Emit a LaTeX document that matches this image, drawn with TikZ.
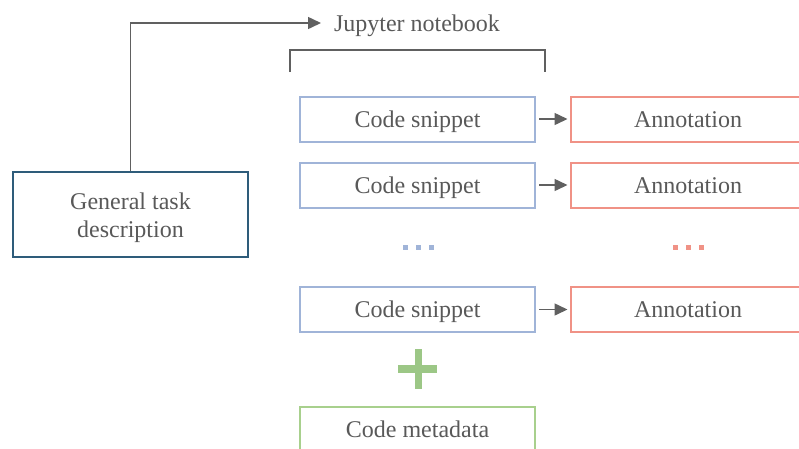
\documentclass[tikz,border=0pt]{standalone}
\usepackage{fontspec}
\setmainfont{Liberation Serif}
\usepackage{tikz}
\usetikzlibrary{arrows.meta,positioning}
\definecolor{txtgray}{RGB}{89,89,89}
\definecolor{linegray}{RGB}{96,96,96}
\definecolor{snipblue}{RGB}{160,180,216}
\definecolor{annred}{RGB}{240,146,134}
\definecolor{taskblue}{RGB}{46,92,122}
\definecolor{metagreen}{RGB}{168,208,141}
\definecolor{plusgreen}{RGB}{156,199,134}

\tikzset{
  label text/.style={text=txtgray, font=\fontsize{24}{28}\selectfont,
    text height=21pt, text depth=5pt},
  box/.style={draw, line width=2pt, fill=white, inner sep=0pt,
    minimum width=235pt, minimum height=45pt, label text, align=center},
  snippet/.style={box, draw=snipblue},
  annot/.style={box, draw=annred},
  conn/.style={draw=linegray, line width=1.5pt, -{Triangle[length=13pt,width=12pt]}}
}

\begin{document}
\begin{tikzpicture}[x=1pt, y=-1pt]
\useasboundingbox (0,0) rectangle (799,448);
\clip (0,0) rectangle (799,448);

% Task description on the left
\node[box, draw=taskblue, minimum height=85pt, text height=50pt] (task) at (130.5,214.5) {General task\\description};

% Notebook title and bracket
\node[anchor=west, inner sep=0pt, outer xsep=13pt, label text] (jup) at (321,23) {Jupyter notebook};
\draw[conn] (task.north) |- (jup.west);
\draw[linegray, line width=1.5pt] (290,72) -- (290,50) -- (545,50) -- (545,72);

% Snippets and their annotations
\foreach \y/\n in {119/1, 185/2, 309.5/3} {
  \node[snippet] (s\n) at (417.5,\y) {Code snippet};
  \node[annot] (a\n) at (688,\y) {Annotation};
  \draw[conn, shorten <=3pt, shorten >=2pt] (s\n) -- (a\n);
}

% Dots between the rows
\foreach \i in {0,1,2} {
  \fill[snipblue] (403+\i*13,245) rectangle +(5,5);
  \fill[annred] (673+\i*13,245) rectangle +(5,5);
}

% Plus sign
\fill[plusgreen] (414.5,349) rectangle (421.5,389);
\fill[plusgreen] (398,365) rectangle (437,373);

% Metadata box
\node[box, draw=metagreen] (meta) at (417.5,429) {Code metadata};
\end{tikzpicture}
\end{document}
